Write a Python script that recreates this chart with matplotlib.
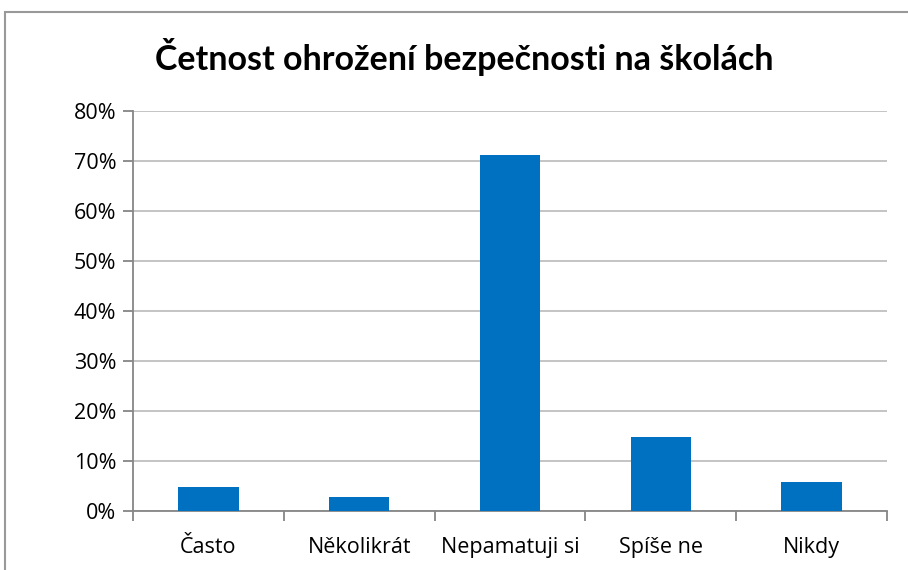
import matplotlib
matplotlib.use("Agg")
import matplotlib.pyplot as plt
import matplotlib.ticker as mticker
from matplotlib.patches import Rectangle

# ── data ──────────────────────────────────────────────────────────
CATEGORIES = ["Často", "Několikrát", "Nepamatuji si", "Spíše ne", "Nikdy"]
VALUES = [0.049, 0.029, 0.713, 0.148, 0.059]
TITLE = "Četnost ohrožení bezpečnosti na školách"

BAR = "#0070C0"
GRID = "#BFBFBF"
AXIS = "#868686"

plt.rcParams["font.family"] = ["Open Sans", "DejaVu Sans"]

fig = plt.figure(figsize=(9.08, 5.70), dpi=100)
W, H = 908, 570
ax = fig.add_axes([133 / W, 1 - 511 / H, (887 - 133) / W, 400 / H])

x = list(range(len(CATEGORIES)))
ax.bar(x, VALUES, width=0.4, color=BAR, zorder=3)
ax.set_xlim(-0.5, len(CATEGORIES) - 0.5)
ax.set_ylim(0, 0.8)

ax.yaxis.set_major_locator(mticker.MultipleLocator(0.1))
ax.yaxis.set_major_formatter(mticker.FuncFormatter(lambda v, _: f"{v*100:.0f}%"))
ax.grid(axis="y", color=GRID, linewidth=1.3, zorder=0)

ax.set_xticks(x)
ax.set_xticklabels(CATEGORIES)
ax.set_xticks([i + 0.5 for i in range(-1, len(CATEGORIES))], minor=True)
ax.tick_params(axis="x", which="major", length=0, pad=19, labelsize=15.5)
ax.tick_params(axis="x", which="minor", length=7, width=1.3, color=AXIS)
ax.tick_params(axis="y", length=7, width=1.3, color=AXIS, labelsize=15.5, pad=5)

for s in ["top", "right"]:
    ax.spines[s].set_visible(False)
for s in ["left", "bottom"]:
    ax.spines[s].set_color(AXIS)
    ax.spines[s].set_linewidth(1.3)

fig.text(464 / W, 1 - 57 / H, TITLE, ha="center", va="center",
         fontsize=24.5, fontweight="bold", family=["Lato", "DejaVu Sans"])

# chart frame
fig.patches.append(Rectangle((5 / W, -0.1), 1.2, 1 - 12 / H + 0.1,
                             transform=fig.transFigure, fill=False,
                             edgecolor="#999999", linewidth=1.5))

fig.savefig("out.png", dpi=100, facecolor="white")
